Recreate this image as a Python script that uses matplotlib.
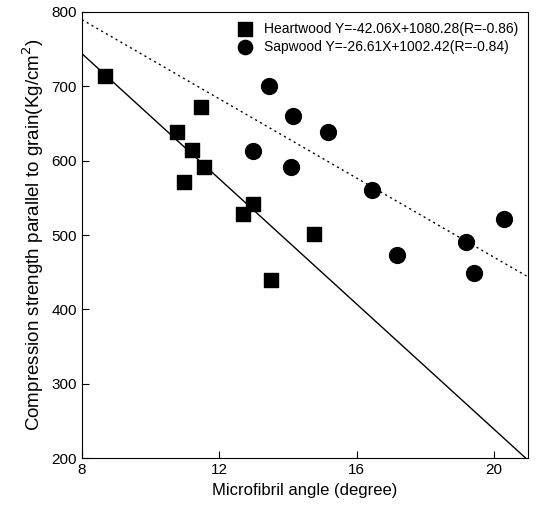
import numpy as np
import matplotlib.pyplot as plt

plt.rcParams['font.family'] = ['Liberation Sans', 'DejaVu Sans']

heart_x = [8.67, 11.47, 10.76, 11.2, 11.57, 10.98, 12.98, 12.68, 14.77, 13.51]
heart_y = [714, 672, 638, 614, 591, 571, 542, 528, 501, 440]
sap_x = [13.46, 14.16, 15.16, 12.99, 14.08, 16.46, 20.3, 19.19, 17.19, 19.41]
sap_y = [700, 660, 638, 613, 592, 560, 521, 491, 473, 449]

heart_fit = (-42.06, 1080.28)
sap_fit = (-26.61, 1002.42)

fig = plt.figure(figsize=(5.39, 5.16), dpi=100)
ax = fig.add_axes([0.152, 0.112, 0.828, 0.865])

xx = np.array([8, 21])
ax.plot(xx, heart_fit[0] * xx + heart_fit[1], color='black', lw=1, zorder=1)
ax.plot(xx, sap_fit[0] * xx + sap_fit[1], color='black', lw=1, ls=(0, (1.5, 2.5)), zorder=1)

ax.scatter(heart_x, heart_y, marker='s', s=110, color='black', zorder=2,
           label='Heartwood Y=-42.06X+1080.28(R=-0.86)')
ax.scatter(sap_x, sap_y, marker='o', s=130, color='black', zorder=2,
           label='Sapwood Y=-26.61X+1002.42(R=-0.84)')

ax.set_xlim(8, 21)
ax.set_ylim(200, 800)
ax.set_xticks([8, 12, 16, 20])
ax.set_yticks([200, 300, 400, 500, 600, 700, 800])
ax.tick_params(direction='in', labelsize=11, length=5)
ax.set_xlabel('Microfibril angle (degree)', fontsize=12)
ax.set_ylabel('Compression strength parallel to grain(Kg/cm$^2$)', fontsize=13.5)
ax.legend(loc='upper right', frameon=False, fontsize=10, handletextpad=0.4,
          borderaxespad=0.3, labelspacing=0.3, markerscale=0.9)

fig.savefig('out.png', dpi=100)
